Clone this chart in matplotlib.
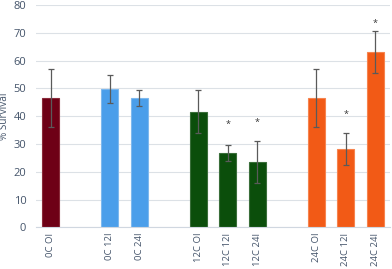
import matplotlib
matplotlib.use("Agg")
import matplotlib.pyplot as plt
import numpy as np

labels = ["0C OI", "", "0C 12I", "0C 24I", "", "12C OI", "12C 12I", "12C 24I", "", "24C OI", "24C 12I", "24C 24I"]
values = [46.6, np.nan, 49.8, 46.5, np.nan, 41.6, 26.6, 23.4, np.nan, 46.6, 28.3, 63.2]
errors = [10.4, np.nan, 5.0, 3.0, np.nan, 7.7, 2.9, 7.6, np.nan, 10.4, 5.8, 7.6]
colors = ["#6E0016", "white", "#4A9EEA", "#4A9EEA", "white", "#0B4E0B", "#0B4E0B", "#0B4E0B", "white", "#F25A16", "#F25A16", "#F25A16"]
edges = ["#8A2B3A", "white", "#7DB8EE", "#7DB8EE", "white", "#3A6E3A", "#3A6E3A", "#3A6E3A", "white", "#F6844F", "#F6844F", "#F6844F"]
star_idx = [6, 7, 10, 11]
star_y = [37.2, 37.8, 40.6, 73.5]

plt.rcParams['font.family'] = ['Open Sans', 'DejaVu Sans']
tick_color = "#44546A"

fig = plt.figure(figsize=(3.92, 2.69), dpi=100)
ax = fig.add_axes([0.092, 0.155, 0.903, 0.826])

x = np.arange(len(labels))
for i in x:
    if np.isnan(values[i]):
        continue
    ax.bar(i, values[i], width=0.57, color=colors[i], edgecolor=edges[i], linewidth=0.8, zorder=2)
    ax.errorbar(i, values[i], yerr=errors[i], fmt='none', ecolor="#5A5A5A", elinewidth=0.9, capsize=2.2, capthick=0.9, zorder=3)

for i, y in zip(star_idx, star_y):
    ax.text(i, y, "*", ha='center', va='center', fontsize=6.5, color="#333333")

ax.set_xlim(-0.5, 11.5)
ax.set_ylim(0, 80)
ax.set_yticks(np.arange(0, 81, 10))
ax.set_xticks(x)
ax.set_xticklabels(labels, rotation=90, fontsize=6.8, color=tick_color)
ax.tick_params(axis='y', labelsize=8, colors=tick_color, length=0, pad=7)
ax.tick_params(axis='x', length=0, pad=4)
ax.yaxis.grid(True, color="#DCE1E6", linewidth=0.8, zorder=0)
ax.set_axisbelow(True)
for s in ["top", "right", "left"]:
    ax.spines[s].set_visible(False)
ax.spines["bottom"].set_color("#D0D7E0")
ax.spines["bottom"].set_linewidth(0.8)
ax.set_ylabel("% Survival", fontsize=7.2, color=tick_color)
ax.yaxis.set_label_coords(-0.075, 0.5)

fig.savefig("out.png", dpi=100)
